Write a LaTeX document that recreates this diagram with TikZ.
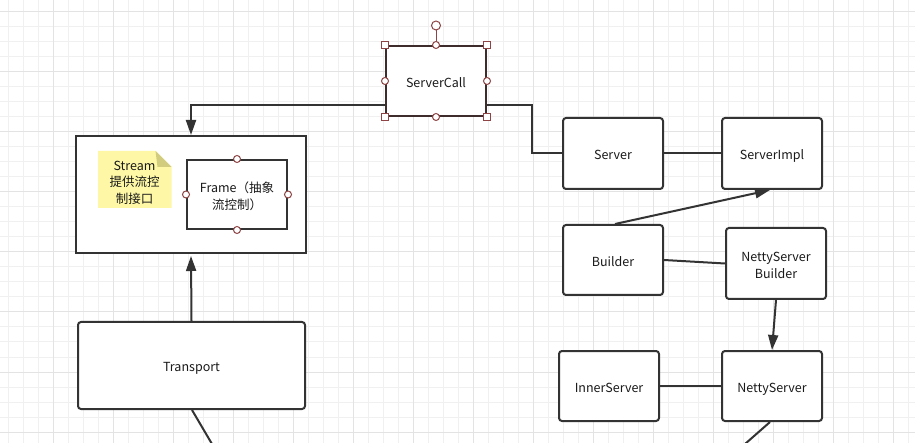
\documentclass[tikz,border=0pt]{standalone}
\usepackage{fontspec}
\setmainfont{Noto Sans CJK SC}
\usetikzlibrary{arrows.meta}
\definecolor{ink}{HTML}{333333}
\definecolor{txt}{HTML}{1A1A1A}
\definecolor{gridminor}{HTML}{F0F0F0}
\definecolor{gridmajor}{HTML}{E3E3E3}
\definecolor{handlered}{HTML}{8E4444}
\definecolor{selborder}{HTML}{3E2C2C}
\definecolor{notefill}{HTML}{FEF8A6}
\definecolor{notefold}{HTML}{D2CD7E}
% centred label text, lowered a little (box size kept) so it sits on the optical middle
\newcommand{\boxtext}[1]{\raisebox{-3pt}[\height][\depth]{\begin{tabular}{@{}c@{}}#1\end{tabular}}}
\begin{document}
\begin{tikzpicture}[x=1pt,y=-1pt,
  every node/.style={font=\fontsize{12.5}{16.5}\selectfont, text=txt},
  box/.style={draw=ink, line width=2pt, fill=white, rounded corners=3pt,
              inner sep=0pt, minimum width=100pt, minimum height=71pt},
  plainbox/.style={draw=ink, line width=2pt, fill=white, inner sep=0pt},
  conn/.style={draw=ink, line width=2pt},
  arr/.style={conn, -{Triangle[length=15pt,width=10pt]}},
  handle/.style={draw=handlered, line width=1pt, fill=white},
]
\useasboundingbox (0,0) rectangle (915,443);
\fill[white] (0,0) rectangle (915,443);

% background grid
\foreach \gx in {8,23,...,908} \draw[gridminor, line width=1pt] (\gx,0) -- (\gx,443);
\foreach \gy in {12,27,...,440} \draw[gridminor, line width=1pt] (0,\gy) -- (915,\gy);
\foreach \gx in {53,113,...,908} \draw[gridmajor, line width=1pt] (\gx,0) -- (\gx,443);
\foreach \gy in {12,72,...,440} \draw[gridmajor, line width=1pt] (0,\gy) -- (915,\gy);

% stream container with its note and frame
\node[plainbox, minimum width=230pt, minimum height=117pt] (stream) at (191,194.5) {};
\fill[notefill] (98,151) -- (155.5,151) -- (171.5,167) -- (171.5,208) -- (98,208) -- cycle;
\fill[notefold] (155.5,151) -- (171.5,167) -- (157.5,167) -- cycle;
\node (note) at (134.5,180.5) {\boxtext{Stream\\提供流控\\制接口}};
\node[plainbox, minimum width=100pt, minimum height=69pt] (frame) at (237,194.5) {\boxtext{Frame（抽象\\流控制）}};
\foreach \a in {north,south,east,west}
  \draw[handle] (frame.\a) circle[radius=3.5pt];

% server side boxes
\node[box] (server) at (613,153.5) {\boxtext{Server}};
\node[box] (serverimpl) at (772,153.5) {\boxtext{ServerImpl}};
\node[box, minimum height=70pt] (builder) at (613,260) {\boxtext{Builder}};
\node[box] (nsb) at (776,263.5) {\boxtext{NettyServer\\Builder}};
\node[box, minimum height=70pt] (inner) at (609,386) {\boxtext{InnerServer}};
\node[box, minimum height=70pt] (netty) at (772,386) {\boxtext{NettyServer}};
\node[box, minimum width=227pt, minimum height=87pt] (transport) at (191.5,365.5) {\boxtext{Transport}};

% connectors
\draw[arr] (server.west) -- ++(-30,0) -- ++(0,-48) -| (stream.north);
\draw[arr] (transport.north) -- ([yshift=-2pt]stream.south);
\draw[conn] (server.east) -- (serverimpl.west);
\draw[arr] ([xshift=2pt]builder.north) -- ([xshift=-2pt]serverimpl.south);
\draw[conn] (builder.east) -- (nsb.west);
\draw[arr] (nsb.south) -- (netty.north);
\draw[conn] (inner.east) -- (netty.west);
\coordinate (tEnd) at (212,444);
\coordinate (nEnd) at (745,444);
\draw[conn] ([xshift=0.5pt]transport.south) -- (tEnd);
\draw[conn] ([xshift=-2pt]netty.south) -- (nEnd);

% selected ServerCall box with its handles
\node[draw=selborder, line width=2pt, fill=white, inner sep=0pt,
      minimum width=100pt, minimum height=70pt] (servercall) at (436,81) {\boxtext{ServerCall}};
\draw[handlered, line width=1pt] (servercall.north) -- (436,30);
\draw[handle] (436,25.5) circle[radius=4.5pt];
\foreach \a in {north,south,east,west}
  \draw[handle] (servercall.\a) circle[radius=3.5pt];
\foreach \a in {north west,north east,south west,south east}
  \draw[handle] ([shift={(-3.5,-3.5)}]servercall.\a) rectangle ++(7,7);
\end{tikzpicture}
\end{document}
